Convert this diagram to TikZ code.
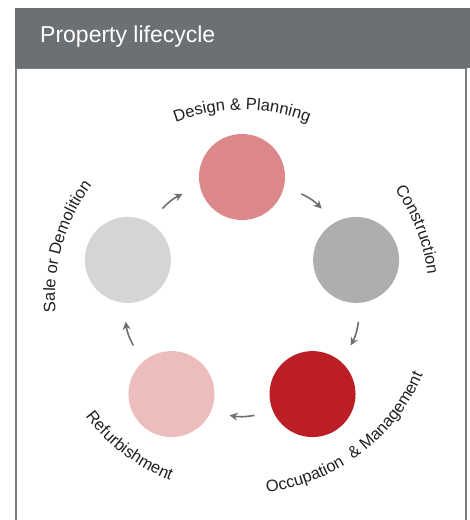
\documentclass[tikz,border=0pt]{standalone}
\usepackage{fontspec}
\setmainfont{Liberation Sans}
\usepackage{xcolor}
\usepackage{tikz}
\definecolor{HeadGrey}{RGB}{109,112,115}
\definecolor{FrameGrey}{RGB}{122,124,126}
\definecolor{DesignRed}{RGB}{220,135,138}
\definecolor{BuildGrey}{RGB}{173,174,176}
\definecolor{OccRed}{RGB}{187,31,37}
\definecolor{RefPink}{RGB}{237,189,189}
\definecolor{SaleGrey}{RGB}{212,214,214}
\definecolor{LabelInk}{RGB}{35,31,32}
\usetikzlibrary{arrows.meta,calc,decorations.text}
\newcommand{\stagefont}[0]{\fontsize{16.5}{16.5}\selectfont}

\begin{document}
\begin{tikzpicture}[x=1pt, y=1pt, >={Stealth[length=8pt,width=8pt]},
            stage/.style={circle, inner sep=0pt, minimum size=86pt},
            cyc/.style={->, draw=HeadGrey, line width=1.6pt},
            curved/.style={decorate, decoration={text along path, text align=center, text color=LabelInk}}]
            \useasboundingbox (-242,-223) rectangle (228,297);

            % draw the frame and the header bar
            \draw[FrameGrey, line width=2.3pt] (-226,229) rectangle (224,-240);
            \node[fill=HeadGrey, inner sep=0pt, minimum width=455pt, minimum height=60pt, anchor=north west] (header) at (-227,289) {};
            \node[anchor=base west, text=white, inner sep=0pt, font=\fontsize{23}{23}\selectfont] (title) at (-202,254) {Property lifecycle};

            % Draw the stages of the cycle
            \foreach \a/\col/\nm in {90/DesignRed/design, 18/BuildGrey/build, -54/OccRed/occup, -126/RefPink/refurb, 162/SaleGrey/sale}{
                \node[stage, fill=\col] (\nm) at (\a:120) {};
            }

            % draw the arrows between the stages
            \foreach \c[count=\i] in {126, 54, -18, -90, -162}{
                \coordinate (s\i) at (\c+6:119);
                \coordinate (e\i) at (\c-6:119);
                \draw[cyc] (s\i) to[bend left=10] (e\i);
            }

            % Labels on the outer ring, top ones read clockwise
            \path[curved, decoration={text={|\stagefont|Design {\&} Planning}}] (120:187) arc[start angle=120, end angle=60, radius=187];
            \path[curved, decoration={text={|\stagefont|Construction}}] (51:187) arc[start angle=51, end angle=-9, radius=187];
            \path[curved, decoration={text={|\stagefont|Sale or Demolition}}] (194:187) arc[start angle=194, end angle=134, radius=187];

            % bottom ones read anticlockwise
            \path[curved, decoration={text={|\stagefont|Occupation {~}{\&} Management}}] (-93:197) arc[start angle=-93, end angle=-13, radius=197];
            \path[curved, decoration={text={|\stagefont|Refurbishment}}] (-167:197) arc[start angle=-167, end angle=-87, radius=197];
        \end{tikzpicture}
\end{document}
